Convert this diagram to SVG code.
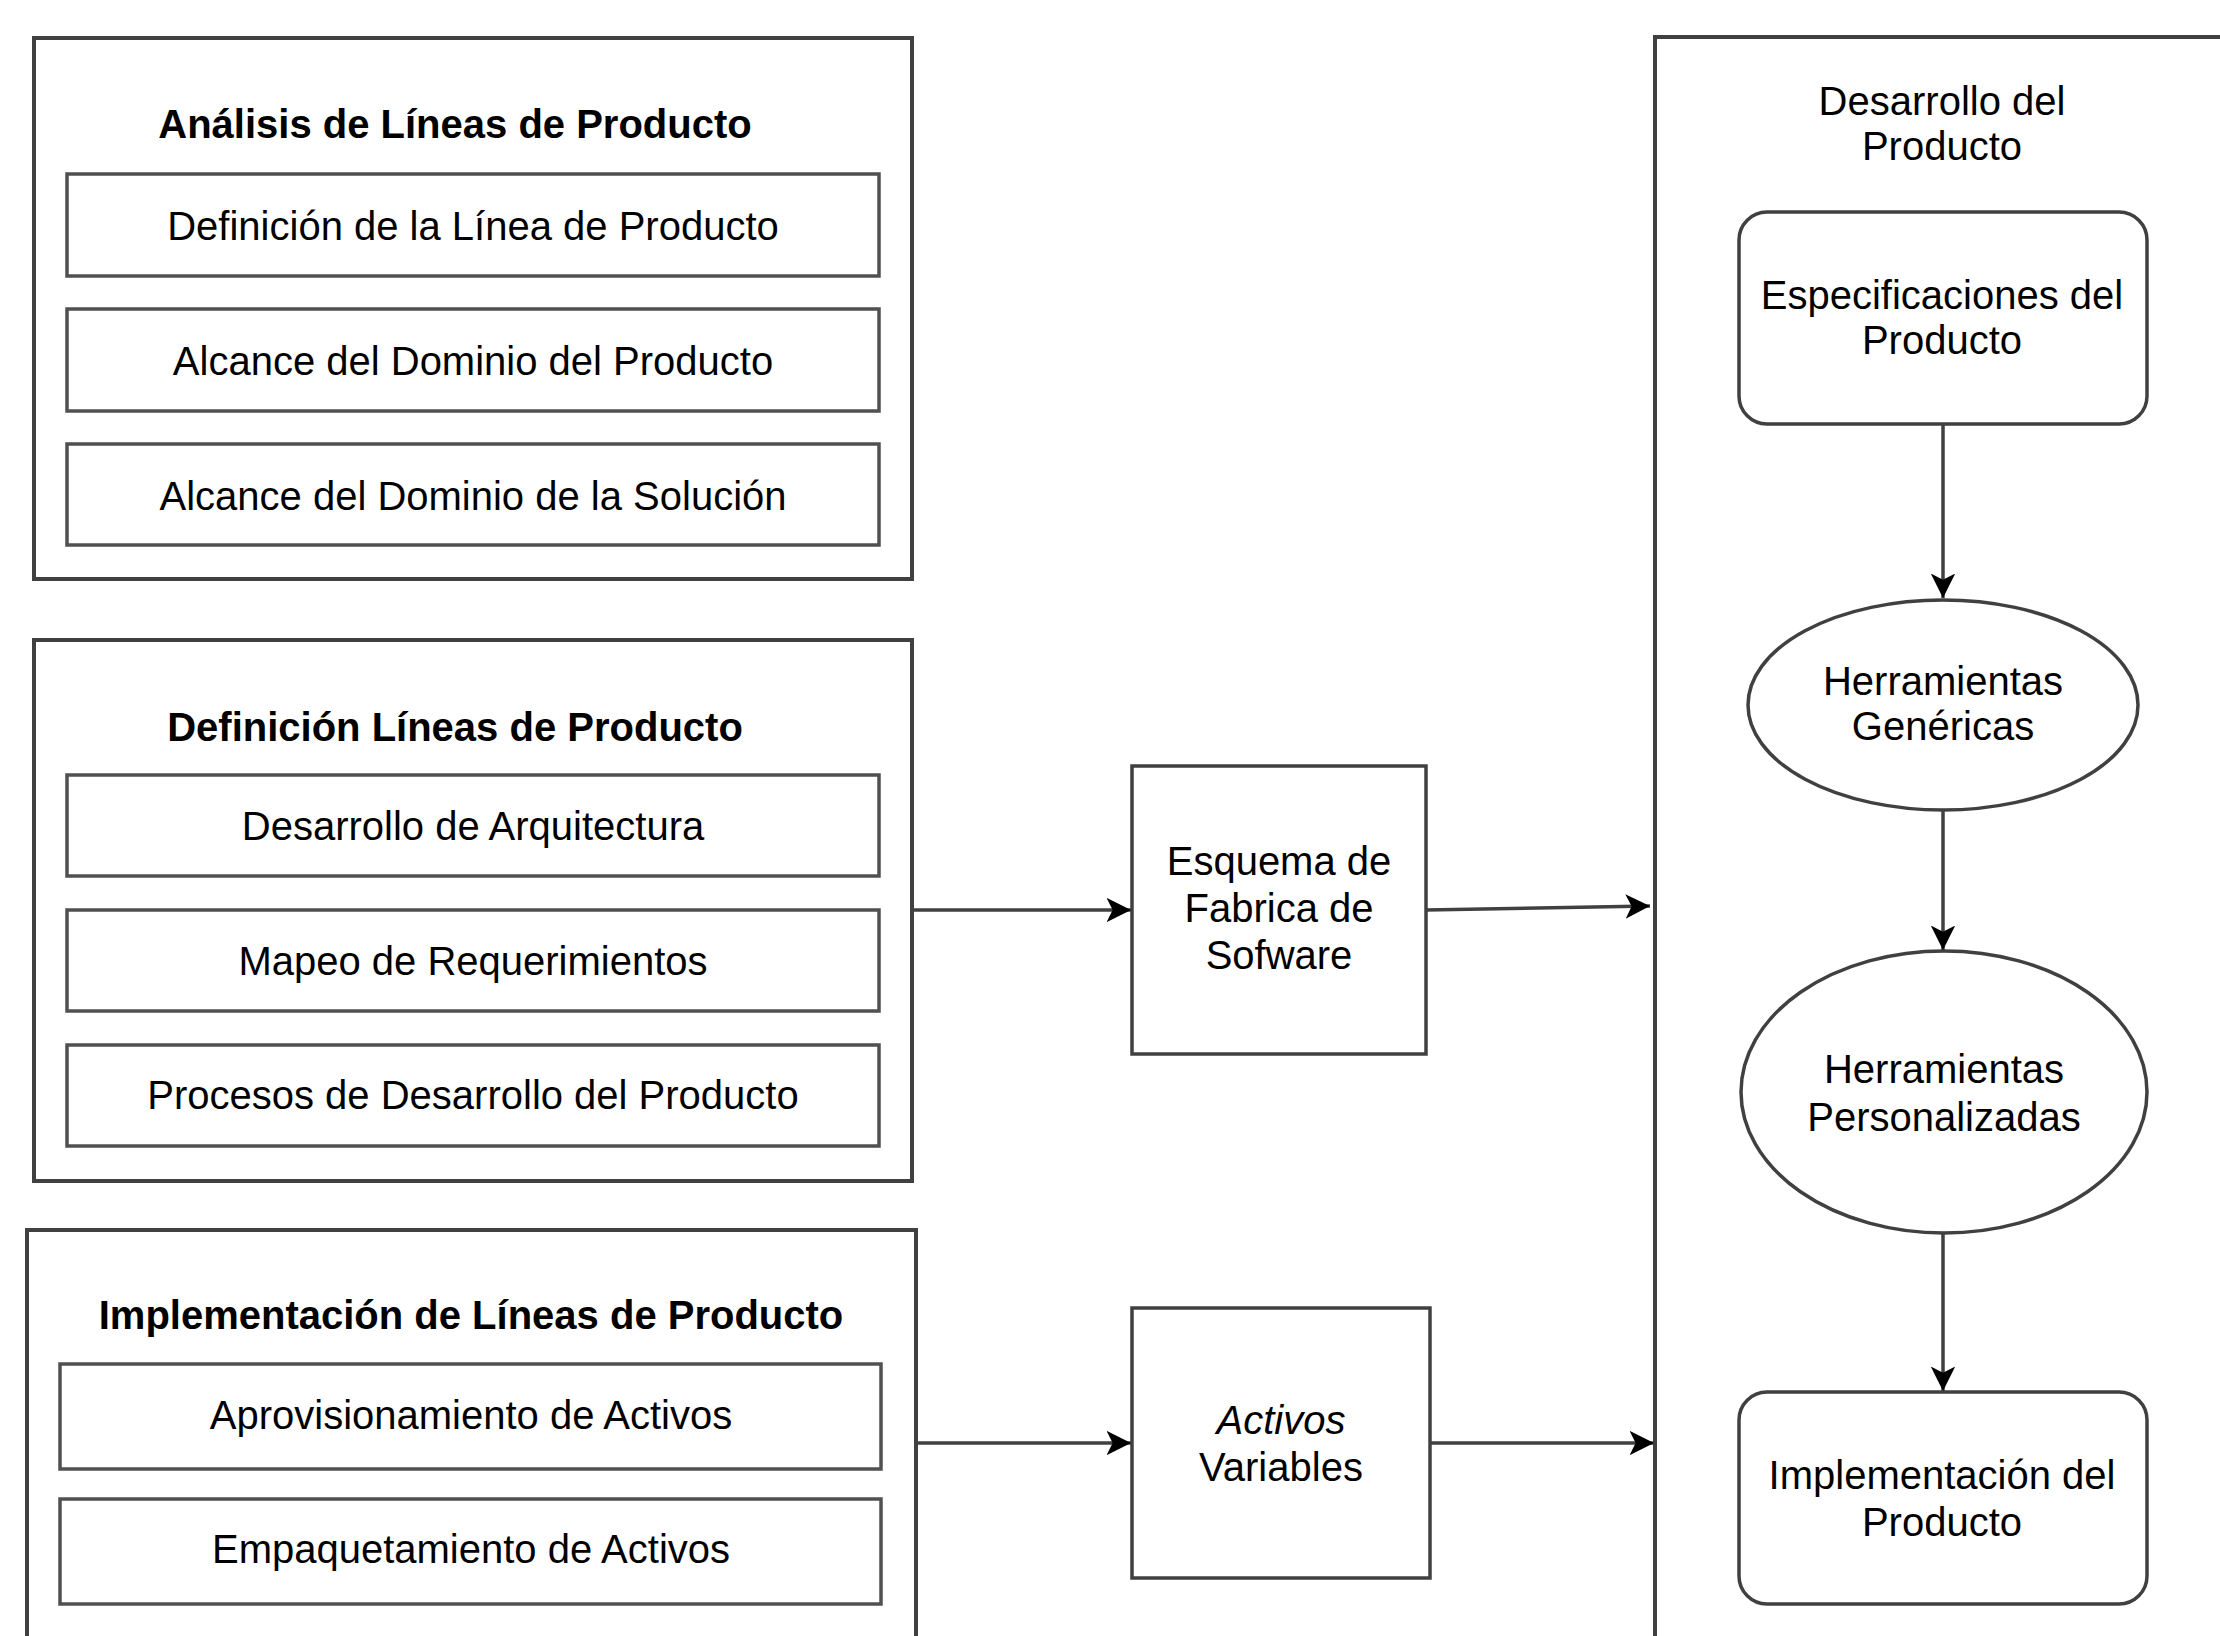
<svg xmlns="http://www.w3.org/2000/svg" width="2220" height="1636" viewBox="0 0 2220 1636">
<defs>
<style>
.t{font-family:"Liberation Sans",Arial,sans-serif;font-size:40px;fill:#000;text-anchor:middle}
.b{font-weight:bold}
.outer{fill:#fff;stroke:#404040;stroke-width:4}
.inner{fill:#fff;stroke:#505050;stroke-width:3.5}
.node{fill:#fff;stroke:#404040;stroke-width:3.5}
.conn{fill:none;stroke:#404040;stroke-width:3.5}
</style>
<marker id="ah" viewBox="0 0 10 10" refX="10" refY="5" markerWidth="7" markerHeight="7" markerUnits="strokeWidth" orient="auto">
<path d="M0,0 L10,5 L0,10 L2.5,5 z" fill="#000"/>
</marker>
</defs>
<rect width="2220" height="1636" fill="#fff"/>

<g id="analisis">
<rect class="outer" x="34" y="38" width="878" height="541"/>
<text class="t b" x="455" y="138">Análisis de Líneas de Producto</text>
<rect class="inner" x="67" y="174" width="812" height="102"/>
<text class="t" x="473" y="240">Definición de la Línea de Producto</text>
<rect class="inner" x="67" y="309" width="812" height="102"/>
<text class="t" x="473" y="375">Alcance del Dominio del Producto</text>
<rect class="inner" x="67" y="444" width="812" height="101"/>
<text class="t" x="473" y="510">Alcance del Dominio de la Solución</text>
</g>

<g id="definicion">
<rect class="outer" x="34" y="640" width="878" height="541"/>
<text class="t b" x="455" y="741">Definición Líneas de Producto</text>
<rect class="inner" x="67" y="775" width="812" height="101"/>
<text class="t" x="473" y="840">Desarrollo de Arquitectura</text>
<rect class="inner" x="67" y="910" width="812" height="101"/>
<text class="t" x="473" y="975">Mapeo de Requerimientos</text>
<rect class="inner" x="67" y="1045" width="812" height="101"/>
<text class="t" x="473" y="1109">Procesos de Desarrollo del Producto</text>
</g>

<g id="implementacion">
<rect class="outer" x="27" y="1230" width="889" height="440"/>
<text class="t b" x="471" y="1329">Implementación de Líneas de Producto</text>
<rect class="inner" x="60" y="1364" width="821" height="105"/>
<text class="t" x="471" y="1429">Aprovisionamiento de Activos</text>
<rect class="inner" x="60" y="1499" width="821" height="105"/>
<text class="t" x="471" y="1563">Empaquetamiento de Activos</text>
</g>

<g id="esquema">
<rect class="node" x="1132" y="766" width="294" height="288"/>
<text class="t" x="1279" y="875">Esquema de</text>
<text class="t" x="1279" y="922">Fabrica de</text>
<text class="t" x="1279" y="969">Sofware</text>
</g>

<g id="activos">
<rect class="node" x="1132" y="1308" width="298" height="270"/>
<text class="t" x="1281" y="1434" font-style="italic">Activos</text>
<text class="t" x="1281" y="1481">Variables</text>
</g>

<g id="desarrollo">
<rect class="outer" x="1655" y="37" width="600" height="1640"/>
<text class="t" x="1942" y="115">Desarrollo del</text>
<text class="t" x="1942" y="160">Producto</text>
</g>

<g id="especificaciones">
<rect class="node" x="1739" y="212" width="408" height="212" rx="28" ry="28"/>
<text class="t" x="1942" y="309">Especificaciones del</text>
<text class="t" x="1942" y="354">Producto</text>
</g>

<g id="genericas">
<ellipse class="node" cx="1943" cy="705" rx="195" ry="105"/>
<text class="t" x="1943" y="695">Herramientas</text>
<text class="t" x="1943" y="740">Genéricas</text>
</g>

<g id="personalizadas">
<ellipse class="node" cx="1944" cy="1092" rx="203" ry="141"/>
<text class="t" x="1944" y="1083">Herramientas</text>
<text class="t" x="1944" y="1131">Personalizadas</text>
</g>

<g id="implementacion-producto">
<rect class="node" x="1739" y="1392" width="408" height="212" rx="28" ry="28"/>
<text class="t" x="1942" y="1489">Implementación del</text>
<text class="t" x="1942" y="1536">Producto</text>
</g>

<g id="connectors">
<line class="conn" x1="912" y1="910" x2="1131" y2="910" marker-end="url(#ah)"/>
<line class="conn" x1="1426" y1="910" x2="1650" y2="906" marker-end="url(#ah)"/>
<line class="conn" x1="916" y1="1443" x2="1131" y2="1443" marker-end="url(#ah)"/>
<line class="conn" x1="1430" y1="1443" x2="1654" y2="1443" marker-end="url(#ah)"/>
<line class="conn" x1="1943" y1="424" x2="1943" y2="598" marker-end="url(#ah)"/>
<line class="conn" x1="1943" y1="810" x2="1943" y2="950" marker-end="url(#ah)"/>
<line class="conn" x1="1943" y1="1233" x2="1943" y2="1391" marker-end="url(#ah)"/>
</g>
</svg>
